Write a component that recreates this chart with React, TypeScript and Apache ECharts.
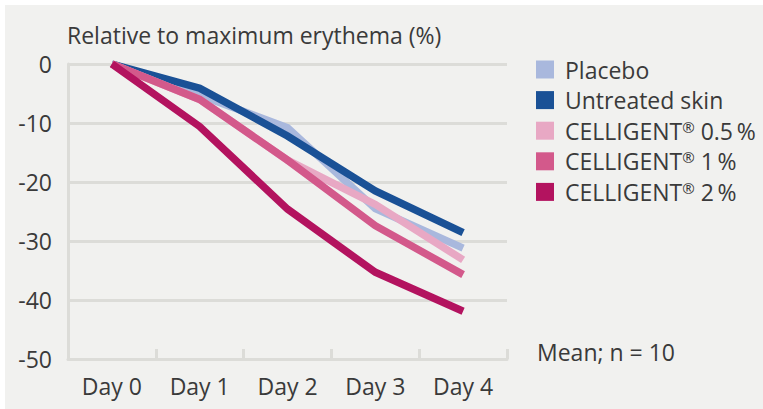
import React, { useEffect, useRef } from "react";
import * as echarts from "echarts";

const categories = ["Day 0", "Day 1", "Day 2", "Day 3", "Day 4"];
const seriesNames = ["Placebo", "Untreated skin", "CELLIGENT® 0.5\u2009%", "CELLIGENT® 1\u2009%", "CELLIGENT® 2\u2009%"];
const placebo = [0, -5.3, -10.8, -24.5, -31.2];
const untreated = [0, -4.1, -12.2, -21.5, -28.6];
const celligent05 = [0, -6.0, -16.3, -23.8, -33.2];
const celligent1 = [0, -6.0, -16.3, -27.4, -35.7];
const celligent2 = [0, -10.6, -24.6, -35.3, -41.9];
const colors = ["#a9b8dd", "#1a5196", "#e8a8c4", "#d3598b", "#b3135f"];
const yTicks = [0, -10, -20, -30, -40, -50];

const FONT = "'Open Sans', 'Noto Sans', sans-serif";
const TXT = "#3a3a3a";
const GRID = "#dcdcd8";
const FS = 23;

export default function App() {
  const ref = useRef<HTMLDivElement>(null);
  useEffect(() => {
    if (!ref.current) return;
    const chart = echarts.init(ref.current, undefined, { renderer: "svg" });
    const values = [placebo, untreated, celligent05, celligent1, celligent2];
    chart.setOption({
      animation: false,
      backgroundColor: "transparent",
      textStyle: { fontFamily: FONT },
      title: {
        text: "Relative to maximum erythema (%)",
        left: 67,
        top: 23,
        padding: 0,
        textStyle: { fontFamily: FONT, fontSize: FS, fontWeight: "normal", color: TXT },
      },
      legend: {
        orient: "vertical",
        left: 536,
        top: 58,
        padding: 0,
        itemWidth: 18,
        itemHeight: 18,
        itemGap: 7.6,
        icon: "rect",
        data: seriesNames,
        formatter: (name: string) => name.replace("®", "{r|®}"),
        textStyle: {
          fontFamily: FONT,
          fontSize: FS,
          color: TXT,
          padding: [0, 0, 0, 6],
          rich: {
            r: { fontFamily: FONT, fontSize: 15, color: TXT, verticalAlign: "top", padding: [0, 0, 6, 0] },
          },
        },
      },
      grid: { left: 68, top: 64, width: 439, height: 295, containLabel: false },
      xAxis: {
        type: "category",
        data: categories,
        boundaryGap: true,
        axisLine: { show: true, onZero: false, lineStyle: { color: GRID, width: 3 } },
        axisTick: { show: true, inside: true, length: 10, lineStyle: { color: GRID, width: 3 } },
        axisLabel: { fontFamily: FONT, fontSize: FS, color: TXT, margin: 15 },
        splitLine: { show: false },
      },
      yAxis: {
        type: "value",
        min: -50,
        max: 0,
        interval: 10,
        axisLine: { show: true, lineStyle: { color: GRID, width: 3 } },
        axisTick: { show: false },
        axisLabel: {
          fontFamily: FONT,
          fontSize: FS,
          color: TXT,
          margin: 16,
          formatter: (v: number) => (yTicks.includes(v) ? String(v) : ""),
        },
        splitLine: { show: true, lineStyle: { color: GRID, width: 3 } },
      },
      series: seriesNames.map((name, i) => ({
        name,
        type: "line",
        data: values[i],
        showSymbol: false,
        symbol: "none",
        color: colors[i],
        lineStyle: { color: colors[i], width: 7.5, cap: "butt", join: "miter" },
        itemStyle: { color: colors[i] },
        z: 2 + i,
      })),
      graphic: [
        {
          type: "text",
          left: 537,
          top: 340,
          style: { text: "Mean; n = 10", font: `${FS}px ${FONT}`, fill: TXT },
        },
      ],
    });
    return () => chart.dispose();
  }, []);
  return (
    <div style={{ position: "fixed", left: 0, top: 0, width: 763, height: 409, background: "#ffffff" }}>
      <div style={{ position: "absolute", left: 5, top: 5, width: 758, height: 404, background: "#f1f1ef" }} />
      <div ref={ref} style={{ position: "absolute", left: 0, top: 0, width: 763, height: 409 }} />
    </div>
  );
}
